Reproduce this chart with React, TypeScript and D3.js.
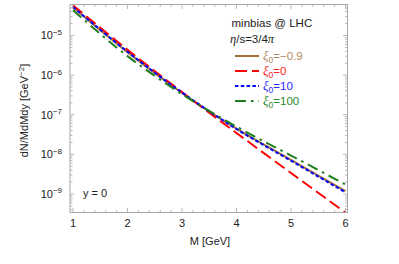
import React from "react";
import * as d3 from "d3";

const masses = [1, 2, 3, 4, 5, 6];
const seriesLabels = ["−0.9", "0", "10", "100"];
const seriesColors = ["#a0703f", "#ff0000", "#0000ff", "#1f7f1f"];
const seriesTextColors = ["#b08a60", "#ff2020", "#2a2aff", "#2a8a2a"];
const seriesDash = ["none", "12,5", "3.5,2.3", "11,5,2.5,5"];
// log10 values
const logBrown = [-4.29, -5.42, -6.45, -7.35, -8.14, -8.93];
const logRed = [-4.24, -5.36, -6.43, -7.46, -8.47, -9.47];
const logBlue = [-4.28, -5.41, -6.44, -7.36, -8.16, -8.96];
const logGreen = [-4.36, -5.52, -6.48, -7.30, -8.03, -8.76];
const seriesLog = [logBrown, logRed, logBlue, logGreen];
const xTicks = [1, 2, 3, 4, 5, 6];
const yTickExps = [-9, -8, -7, -6, -5];

const L = 70, R = 347.5, T = 4.5, B = 212.5;

export default function App() {
  const x = d3.scaleLinear().domain([1 - 3 / 54.5, 6 + 2 / 54.5]).range([L, R]);
  const y = d3.scaleLog().domain([Math.pow(10, -9.467), Math.pow(10, -4.218)]).range([B, T]);
  const line = d3
    .line<[number, number]>()
    .x((d) => x(d[0]))
    .y((d) => y(d[1]))
    .curve(d3.curveMonotoneX);

  const xMinor: number[] = [];
  for (let v = 1; v <= 6.001; v += 0.2) xMinor.push(Math.round(v * 10) / 10);
  const yMinor: number[] = [];
  for (let e = -10; e <= -4; e++) for (let k = 1; k <= 9; k++) {
    const v = k * Math.pow(10, e);
    if (v >= y.domain()[0] && v <= y.domain()[1]) yMinor.push(v);
  }
  const frame = "#a8a8a8";
  const font = "Liberation Sans, Arial, sans-serif";

  return (
    <svg width={399} height={264} style={{ position: "absolute", left: 0, top: 0 }}>
      <rect width={399} height={264} fill="white" />
      <defs>
        <clipPath id="plotclip">
          <rect x={L} y={T} width={R - L} height={B - T} />
        </clipPath>
      </defs>
      <g clipPath="url(#plotclip)">
        {seriesLog.map((s, i) => (
          <path
            key={i}
            d={line(masses.map((m, j) => [m, Math.pow(10, s[j])] as [number, number])) || ""}
            fill="none"
            stroke={seriesColors[i]}
            strokeWidth={2}
            strokeDasharray={seriesDash[i]}
          />
        ))}
      </g>
      {/* frame */}
      <rect x={L} y={T} width={R - L} height={B - T} fill="none" stroke={frame} strokeWidth={1} />
      {xMinor.map((v, i) => {
        const major = Math.abs(v - Math.round(v)) < 1e-6;
        const len = major ? 4.5 : 2.5;
        return (
          <g key={"xt" + i} stroke={frame} strokeWidth={0.8}>
            <line x1={x(v)} x2={x(v)} y1={B} y2={B - len} />
            <line x1={x(v)} x2={x(v)} y1={T} y2={T + len} />
          </g>
        );
      })}
      {yMinor.map((v, i) => {
        const major = Math.abs(Math.log10(v) - Math.round(Math.log10(v))) < 1e-6;
        const len = major ? 4.5 : 2.5;
        return (
          <g key={"yt" + i} stroke={frame} strokeWidth={0.8}>
            <line x1={L} x2={L + len} y1={y(v)} y2={y(v)} />
            <line x1={R} x2={R - len} y1={y(v)} y2={y(v)} />
          </g>
        );
      })}
      {xTicks.map((v) => (
        <text key={"xl" + v} x={x(v)} y={227} textAnchor="middle" fontFamily={font} fontSize={11} fill="#222">
          {v}
        </text>
      ))}
      {yTickExps.map((e) => (
        <text key={"yl" + e} x={62} y={y(Math.pow(10, e)) + 4} textAnchor="end" fontFamily={font} fontSize={11} fill="#222">
          10
          <tspan dy={-4.5} fontSize={8}>{"−" + Math.abs(e)}</tspan>
        </text>
      ))}
      <text x={210} y={245} textAnchor="middle" fontFamily={font} fontSize={11} fill="#222">
        M [GeV]
      </text>
      <text
        transform={`translate(28, ${(T + B) / 2 + 2}) rotate(-90)`}
        textAnchor="middle"
        fontFamily={font}
        fontSize={11}
        fill="#222"
      >
        dN/MdMdy [GeV
        <tspan dy={-4.5} fontSize={8}>−2</tspan>
        <tspan dy={4.5}>]</tspan>
      </text>
      <text x={83} y={197} fontFamily={font} fontSize={11} fill="#222">
        y = 0
      </text>
      <text x={231.5} y={27} fontFamily={font} fontSize={11.5} fill="#222">
        minbias @ LHC
      </text>
      <text x={230} y={43} fontFamily={font} fontSize={11.5} fill="#222">
        <tspan fontFamily="Liberation Serif, serif" fontStyle="italic" fontSize={12.5}>η</tspan>/s=3/4
        <tspan fontFamily="Liberation Serif, serif" fontStyle="italic" fontSize={12.5}>π</tspan>
      </text>
      {seriesLabels.map((lab, i) => {
        const cy = 56 + i * 15;
        return (
          <g key={"lg" + i}>
            <line x1={235} x2={259} y1={cy} y2={cy} stroke={seriesColors[i]} strokeWidth={2} strokeDasharray={seriesDash[i]} />
            <text x={263} y={cy + 4} fontFamily={font} fontSize={11.5} fill={seriesTextColors[i]}>
              <tspan fontFamily="Liberation Serif, serif" fontStyle="italic" fontSize={13}>ξ</tspan>
              <tspan dy={2.5} fontSize={8.5}>0</tspan>
              <tspan dy={-2.5}>{"=" + lab}</tspan>
            </text>
          </g>
        );
      })}
    </svg>
  );
}
